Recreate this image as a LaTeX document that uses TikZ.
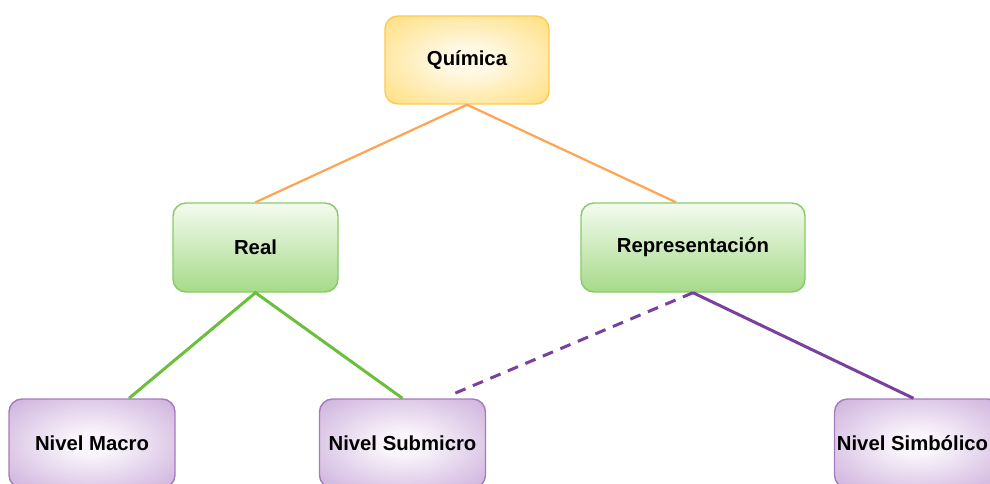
\documentclass[tikz,border=0pt]{standalone}
\usepackage{fontspec}
\setmainfont{Liberation Sans}
\usetikzlibrary{calc}
\definecolor{qinner}{HTML}{FFF8E2}
\definecolor{qouter}{HTML}{FFD968}
\definecolor{qborder}{HTML}{FFC94F}
\definecolor{gtop}{HTML}{F4FBF0}
\definecolor{gbottom}{HTML}{A6DA88}
\definecolor{gborder}{HTML}{86CC66}
\definecolor{pinner}{HTML}{FAF5FC}
\definecolor{pouter}{HTML}{C4A2D5}
\definecolor{pborder}{HTML}{A47BBE}
\definecolor{orangeline}{HTML}{FFA552}
\definecolor{greenline}{HTML}{6ABF3C}
\definecolor{purpleline}{HTML}{7B3F9E}
\pgfdeclareradialshading{qshade}{\pgfpoint{0bp}{0bp}}{color(0bp)=(qinner); color(8bp)=(qinner); color(42bp)=(qouter); color(75bp)=(qouter)}
\pgfdeclareradialshading{pshade}{\pgfpoint{0bp}{0bp}}{color(0bp)=(pinner); color(6bp)=(pinner); color(42bp)=(pouter); color(75bp)=(pouter)}
\tikzset{
  box/.style={rounded corners=13pt, line width=1.4pt,
    font=\bfseries\fontsize{20.3}{24}\selectfont, inner sep=0pt},
  yellowbox/.style={box, draw=qborder, shading=qshade,
    minimum width=164pt, minimum height=88pt},
  greenbox/.style={box, draw=gborder, top color=gtop, bottom color=gbottom,
    minimum height=89pt},
  purplebox/.style={box, draw=pborder, shading=pshade,
    minimum width=166pt, minimum height=89pt},
  orangelink/.style={draw=orangeline, line width=2.2pt},
  greenlink/.style={draw=greenline, line width=3pt},
  purplelink/.style={draw=purpleline, line width=3pt},
  dashlink/.style={purplelink, dash pattern=on 11pt off 8pt}
}
\begin{document}
\begin{tikzpicture}[x=1pt, y=-1pt]
\useasboundingbox (0,0) rectangle (990,484);
\clip (0,0) rectangle (990,484);
\node[yellowbox] (quim) at (467,60) {Química};
\node[greenbox, minimum width=165pt] (real) at (255.5,247.5) {Real};
\node[greenbox, minimum width=224pt] (rep) at (693,247.5) {Representación};
\node[purplebox] (macro) at (92,443.5) {Nivel Macro};
\node[purplebox] (sub) at (402.5,443.5) {Nivel Submicro};
\node[purplebox] (simb) at (917.5,443.5) {Nivel Simbólico\kern10pt\null};
\draw[orangelink] (real.north) -- (quim.south) -- ($(rep.north)+(-17,0)$);
\draw[greenlink] ($(macro.north)+(37,0)$) -- (real.south) -- (sub.north);
\draw[dashlink] (rep.south) -- ($(sub.north)+(50,-4)$);
\draw[purplelink] (rep.south) -- ($(simb.north)+(-4,0)$);
\end{tikzpicture}
\end{document}
